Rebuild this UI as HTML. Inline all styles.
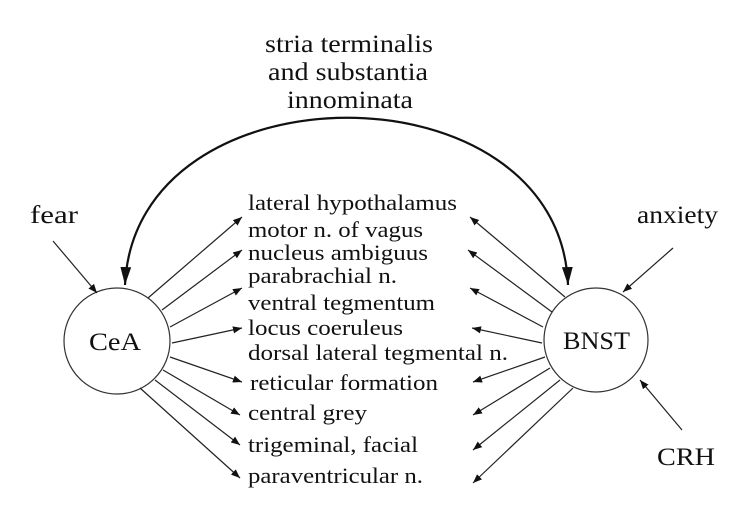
<!DOCTYPE html>
<html><head><meta charset="utf-8"><style>
html,body{margin:0;padding:0;background:#fff;}
svg{display:block;}
svg text{font-family:"Liberation Serif","Times New Roman","DejaVu Serif",serif;fill:#111;}
</style></head><body>
<svg width="750" height="512" viewBox="0 0 750 512" xmlns="http://www.w3.org/2000/svg" font-family="Liberation Serif, Times New Roman, DejaVu Serif, serif">
<defs>
<marker id="a" viewBox="0 0 10 10" refX="10" refY="5" markerWidth="9" markerHeight="9" markerUnits="userSpaceOnUse" orient="auto">
<path d="M0,1 L10,5 L0,9 Z" fill="#111"/></marker>
<marker id="b" viewBox="0 0 10 10" refX="10" refY="5" markerWidth="18" markerHeight="18" markerUnits="userSpaceOnUse" orient="auto">
<path d="M0,2 L10,5 L0,8 Z" fill="#111"/></marker>
<marker id="bs" viewBox="0 0 10 10" refX="0" refY="5" markerWidth="18" markerHeight="18" markerUnits="userSpaceOnUse" orient="auto">
<path d="M10,2 L0,5 L10,8 Z" fill="#111"/></marker>
</defs>
<g font-size="25" lengthAdjust="spacingAndGlyphs">
<text x="265" y="52" textLength="168" lengthAdjust="spacingAndGlyphs">stria terminalis</text>
<text x="268" y="80" textLength="160" lengthAdjust="spacingAndGlyphs">and substantia</text>
<text x="287" y="108" textLength="126" lengthAdjust="spacingAndGlyphs">innominata</text>
</g>
<path d="M125 285 C 135 62, 560 62, 568 285" fill="none" stroke="#111" stroke-width="2.2" marker-start="url(#bs)" marker-end="url(#b)"/>
<circle cx="117" cy="341" r="53" fill="#fff" stroke="#333" stroke-width="1.2"/>
<circle cx="596" cy="340" r="52" fill="#fff" stroke="#333" stroke-width="1.2"/>
<text x="89" y="350" font-size="25" textLength="52" lengthAdjust="spacingAndGlyphs">CeA</text>
<text x="563" y="349" font-size="25" textLength="67" lengthAdjust="spacingAndGlyphs">BNST</text>
<text x="30" y="223" font-size="25" textLength="48" lengthAdjust="spacingAndGlyphs">fear</text>
<text x="637" y="223" font-size="25" textLength="81" lengthAdjust="spacingAndGlyphs">anxiety</text>
<text x="657" y="465" font-size="25" textLength="58" lengthAdjust="spacingAndGlyphs">CRH</text>
<g stroke="#222" stroke-width="1.2" marker-end="url(#a)">
<line x1="53" y1="241" x2="97" y2="293"/>
<line x1="673" y1="248" x2="623" y2="292"/>
<line x1="682" y1="430" x2="640" y2="380"/>
<line x1="148" y1="298" x2="242" y2="217"/>
<line x1="162" y1="310" x2="242" y2="250"/>
<line x1="170" y1="327" x2="242" y2="288"/>
<line x1="172" y1="343" x2="242" y2="328"/>
<line x1="170" y1="357" x2="242" y2="382"/>
<line x1="163" y1="370" x2="240" y2="415"/>
<line x1="155" y1="380" x2="240" y2="445"/>
<line x1="140" y1="388" x2="240" y2="478"/>
<line x1="565" y1="297" x2="470" y2="217"/>
<line x1="552" y1="312" x2="468" y2="250"/>
<line x1="543" y1="327" x2="470" y2="288"/>
<line x1="542" y1="343" x2="472" y2="328"/>
<line x1="545" y1="357" x2="473" y2="382"/>
<line x1="550" y1="368" x2="473" y2="415"/>
<line x1="560" y1="380" x2="473" y2="450"/>
<line x1="573" y1="388" x2="473" y2="483"/>
</g>
<g font-size="22.5">
<text x="248" y="210" textLength="209" lengthAdjust="spacingAndGlyphs">lateral hypothalamus</text>
<text x="248" y="237" textLength="175" lengthAdjust="spacingAndGlyphs">motor n. of vagus</text>
<text x="248" y="260" textLength="180" lengthAdjust="spacingAndGlyphs">nucleus ambiguus</text>
<text x="248" y="283" textLength="149" lengthAdjust="spacingAndGlyphs">parabrachial n.</text>
<text x="248" y="310" textLength="187" lengthAdjust="spacingAndGlyphs">ventral tegmentum</text>
<text x="248" y="335" textLength="155" lengthAdjust="spacingAndGlyphs">locus coeruleus</text>
<text x="248" y="360" textLength="260" lengthAdjust="spacingAndGlyphs">dorsal lateral tegmental n.</text>
<text x="250" y="390" textLength="188" lengthAdjust="spacingAndGlyphs">reticular formation</text>
<text x="248" y="420" textLength="119" lengthAdjust="spacingAndGlyphs">central grey</text>
<text x="248" y="452" textLength="170" lengthAdjust="spacingAndGlyphs">trigeminal, facial</text>
<text x="248" y="483" textLength="175" lengthAdjust="spacingAndGlyphs">paraventricular n.</text>
</g>
</svg>
</body></html>
